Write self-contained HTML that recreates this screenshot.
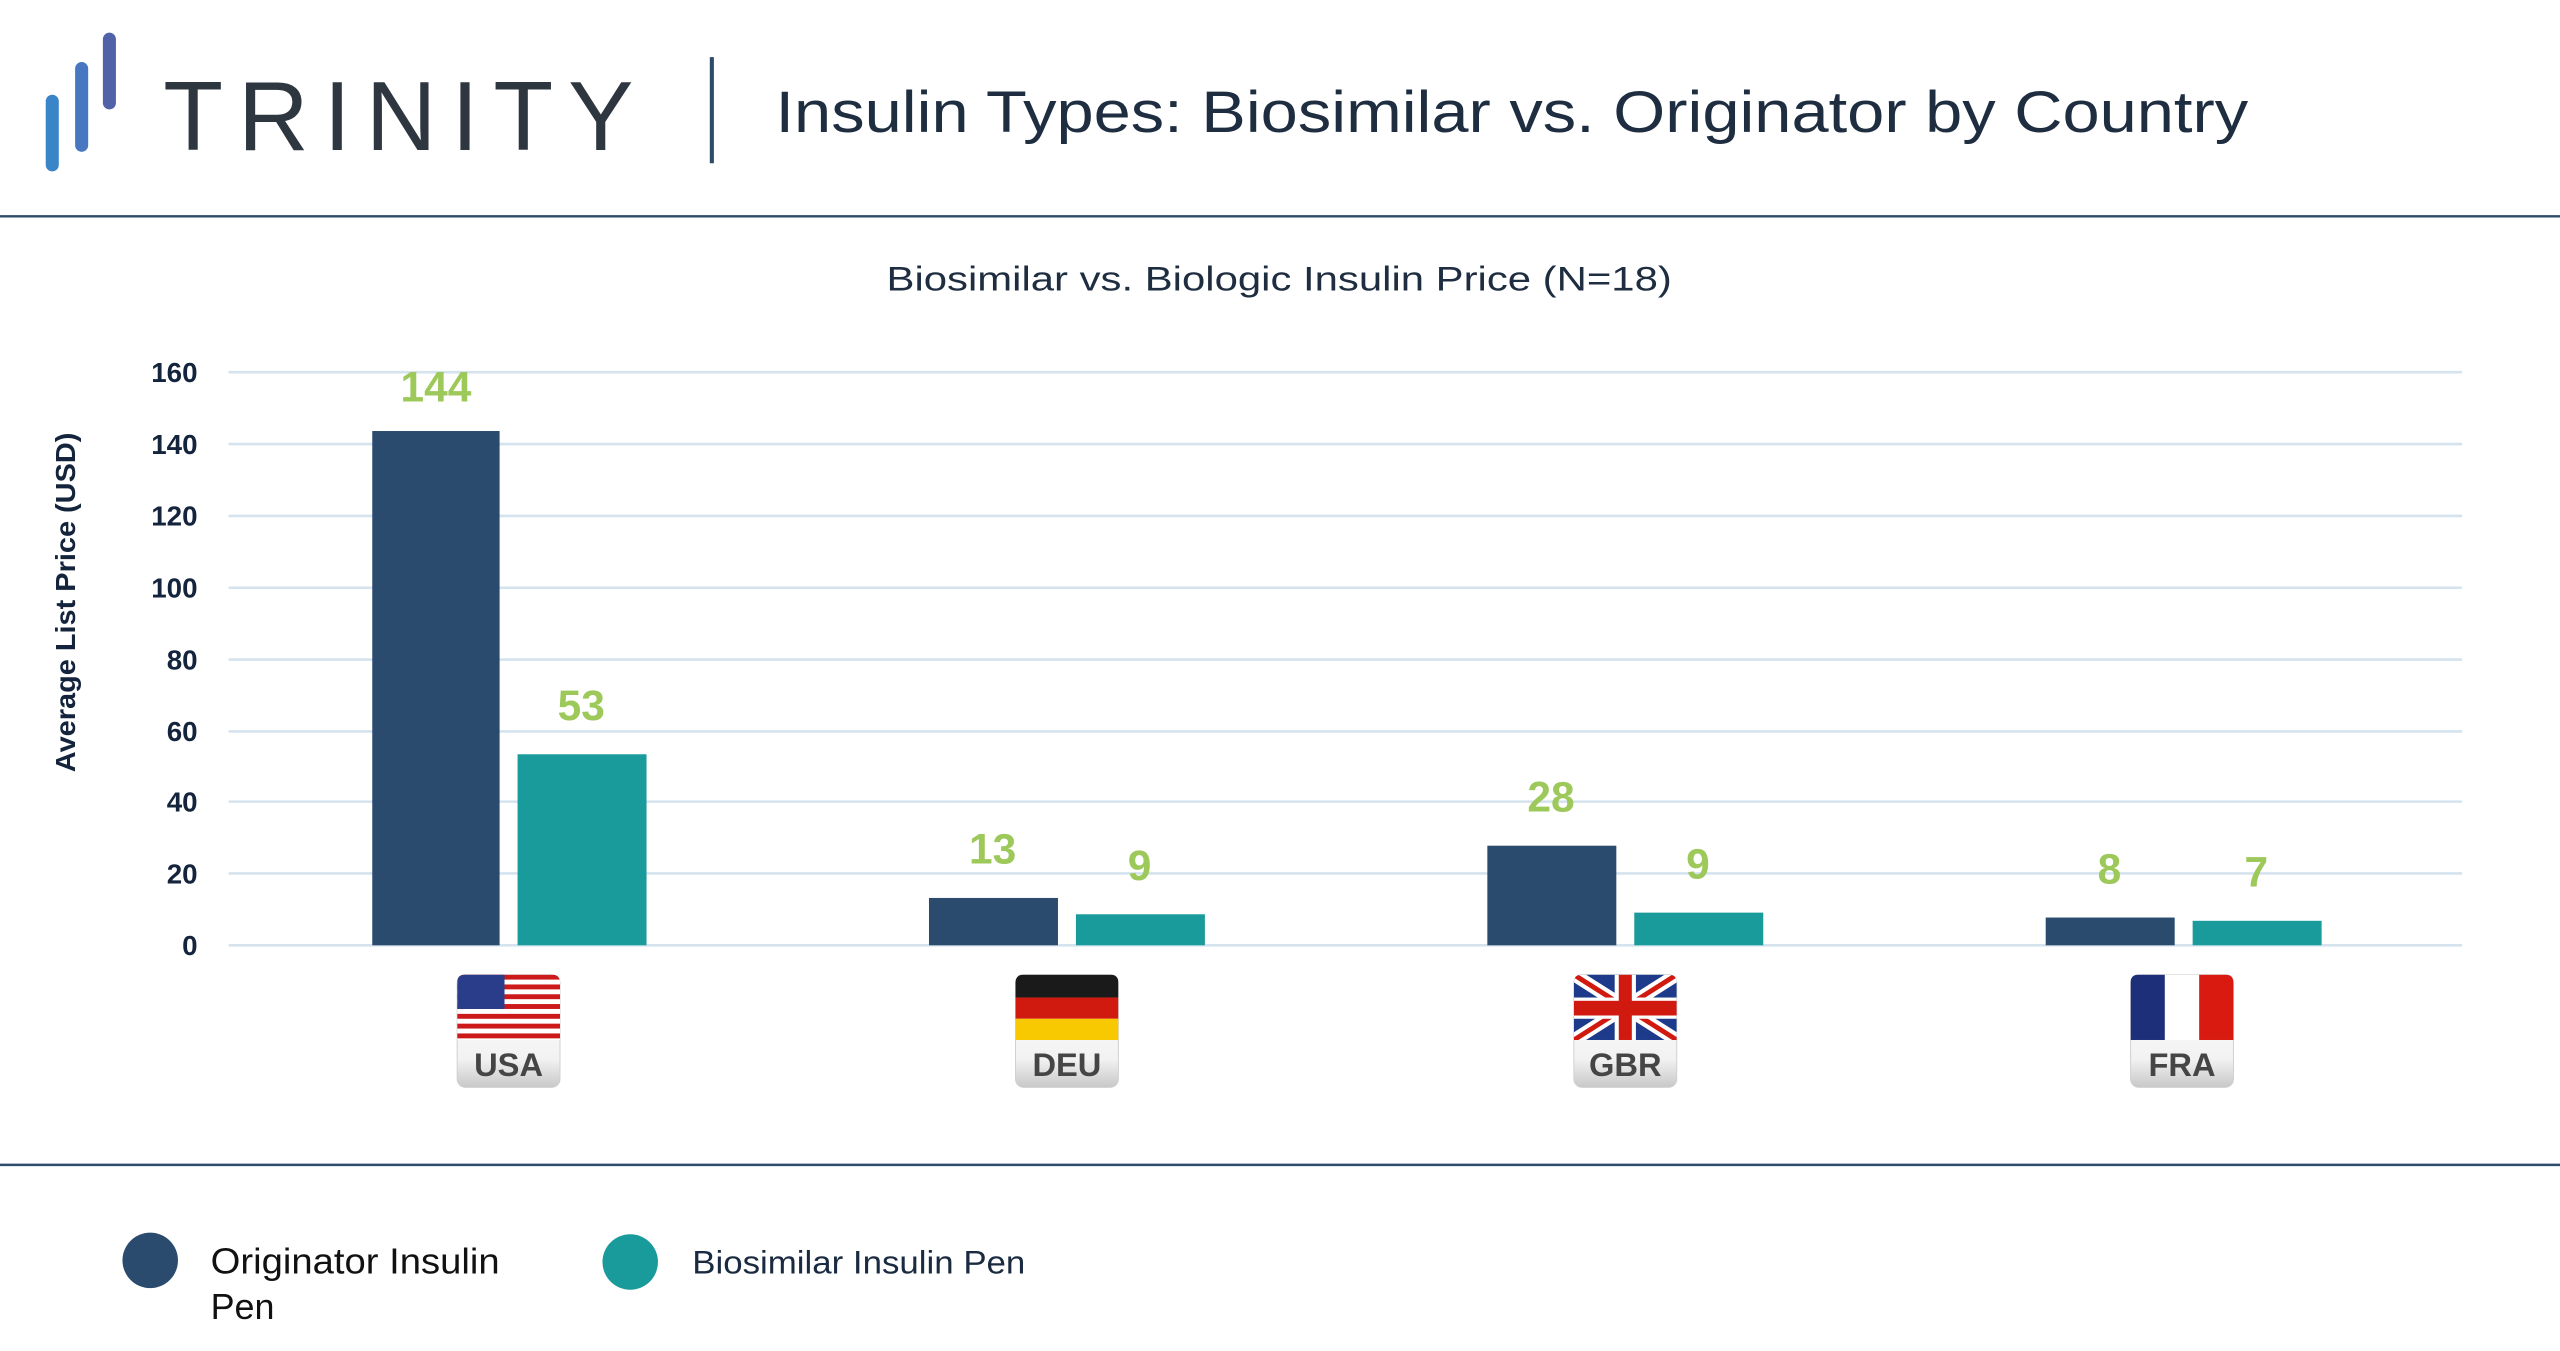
<!DOCTYPE html>
<html><head><meta charset="utf-8"><style>
html,body{margin:0;padding:0;background:#fff;}
svg{display:block;}
text{font-family:"Liberation Sans",sans-serif;}
</style></head><body>
<svg width="2560" height="1351" viewBox="0 0 1568 827.5" xmlns="http://www.w3.org/2000/svg">
<defs>
<clipPath id="top"><path d="M0,5 Q0,0 5,0 L58,0 Q63,0 63,5 L63,40 L0,40 Z"/></clipPath>
<linearGradient id="lab" x1="0" y1="0" x2="0" y2="1"><stop offset="0" stop-color="#fff"/><stop offset="0.75" stop-color="#f2f2f2"/><stop offset="1" stop-color="#c8c8c8"/></linearGradient>
<g id="badge">
<rect x="0" y="0" width="63" height="69" rx="5" fill="url(#lab)" stroke="#d0d0d0" stroke-width="0.6"/>
</g>
</defs>
<rect width="1568" height="827.5" fill="#fff"/>
<!-- logo -->
<line x1="32" y1="62" x2="32" y2="101" stroke="#3a84c8" stroke-width="8" stroke-linecap="round"/>
<line x1="50" y1="42" x2="50" y2="89" stroke="#4677c0" stroke-width="8" stroke-linecap="round"/>
<line x1="67" y1="24" x2="67" y2="63" stroke="#5262a8" stroke-width="8" stroke-linecap="round"/>
<text x="100" y="92" font-size="60" fill="#2e3640" textLength="288" lengthAdjust="spacing">TRINITY</text>
<line x1="436" y1="35" x2="436" y2="100" stroke="#2c4a6a" stroke-width="2.5"/>
<text x="475" y="81" font-size="36" fill="#1e2d40" textLength="902" lengthAdjust="spacingAndGlyphs">Insulin Types: Biosimilar vs. Originator by Country</text>
<line x1="0" y1="132.5" x2="1568" y2="132.5" stroke="#2c4a6a" stroke-width="1.5"/>
<text x="543" y="178" font-size="21" fill="#1e2d40" textLength="481" lengthAdjust="spacingAndGlyphs">Biosimilar vs. Biologic Insulin Price (N=18)</text>
<!-- grid -->
<g stroke="#d5e3ee" stroke-width="1.6">
<line x1="140" y1="228" x2="1508" y2="228"/><line x1="140" y1="272" x2="1508" y2="272"/>
<line x1="140" y1="316" x2="1508" y2="316"/><line x1="140" y1="360" x2="1508" y2="360"/>
<line x1="140" y1="404" x2="1508" y2="404"/><line x1="140" y1="448" x2="1508" y2="448"/>
<line x1="140" y1="491" x2="1508" y2="491"/><line x1="140" y1="535" x2="1508" y2="535"/>
<line x1="140" y1="579" x2="1508" y2="579"/>
</g>
<g font-size="17" font-weight="bold" fill="#14243c" text-anchor="end">
<text x="121" y="234">160</text><text x="121" y="278">140</text><text x="121" y="322">120</text>
<text x="121" y="366">100</text><text x="121" y="410">80</text><text x="121" y="454">60</text>
<text x="121" y="497">40</text><text x="121" y="541">20</text><text x="121" y="585">0</text>
</g>
<text transform="translate(46,369) rotate(-90)" text-anchor="middle" font-size="17" font-weight="bold" fill="#14243c" textLength="208" lengthAdjust="spacingAndGlyphs">Average List Price (USD)</text>
<!-- bars -->
<g fill="#2a4a6e">
<rect x="228" y="264" width="78" height="315"/>
<rect x="569" y="550" width="79" height="29"/>
<rect x="911" y="518" width="79" height="61"/>
<rect x="1253" y="562" width="79" height="17"/>
</g>
<g fill="#1a9b9b">
<rect x="317" y="462" width="79" height="117"/>
<rect x="659" y="560" width="79" height="19"/>
<rect x="1001" y="559" width="79" height="20"/>
<rect x="1343" y="564" width="79" height="15"/>
</g>
<g font-size="26" font-weight="bold" fill="#9dc85a" text-anchor="middle">
<text x="267" y="246">144</text><text x="356" y="441">53</text>
<text x="608" y="529">13</text><text x="698" y="539">9</text>
<text x="950" y="497">28</text><text x="1040" y="538">9</text>
<text x="1292" y="541">8</text><text x="1382" y="543">7</text>
</g>
<!-- badges -->
<g transform="translate(280,597)">
<use href="#badge"/>
<g clip-path="url(#top)">
<rect width="63" height="40" fill="#fff"/>
<g fill="#cc1a1a"><rect y="0" width="63" height="3"/><rect y="6" width="63" height="3"/><rect y="12" width="63" height="3"/><rect y="18" width="63" height="3"/><rect y="24" width="63" height="3"/><rect y="30" width="63" height="3"/><rect y="36" width="63" height="3"/></g>
<rect width="29" height="21" fill="#2a3d8a"/>
</g>
<text x="31.5" y="62" text-anchor="middle" font-size="20" font-weight="bold" fill="#454545">USA</text>
</g>
<g transform="translate(622,597)">
<use href="#badge"/>
<g clip-path="url(#top)">
<rect width="63" height="14" fill="#1a1a1a"/><rect y="14" width="63" height="13" fill="#d01a10"/><rect y="27" width="63" height="13" fill="#f8c800"/>
</g>
<text x="31.5" y="62" text-anchor="middle" font-size="20" font-weight="bold" fill="#454545">DEU</text>
</g>
<g transform="translate(964,597)">
<use href="#badge"/>
<g clip-path="url(#top)">
<rect width="63" height="40" fill="#1e3a8a"/>
<path d="M0,0 L63,40 M63,0 L0,40" stroke="#fff" stroke-width="8"/>
<path d="M0,0 L63,40 M63,0 L0,40" stroke="#d01a10" stroke-width="3"/>
<rect x="25" width="13" height="40" fill="#fff"/><rect y="14" width="63" height="13" fill="#fff"/>
<rect x="27.5" width="8" height="40" fill="#d01a10"/><rect y="16" width="63" height="9" fill="#d01a10"/>
</g>
<text x="31.5" y="62" text-anchor="middle" font-size="20" font-weight="bold" fill="#454545">GBR</text>
</g>
<g transform="translate(1305,597)">
<use href="#badge"/>
<g clip-path="url(#top)">
<rect width="21" height="40" fill="#1e2f7a"/><rect x="21" width="21" height="40" fill="#fff"/><rect x="42" width="21" height="40" fill="#d81a10"/>
</g>
<text x="31.5" y="62" text-anchor="middle" font-size="20" font-weight="bold" fill="#454545">FRA</text>
</g>
<line x1="0" y1="713.5" x2="1568" y2="713.5" stroke="#2c4a6a" stroke-width="1.5"/>
<!-- legend -->
<ellipse cx="92" cy="772" rx="17" ry="17" fill="#2a4a6e"/>
<text x="129" y="780" font-size="22" fill="#111" textLength="177" lengthAdjust="spacingAndGlyphs">Originator Insulin</text>
<text x="129" y="808" font-size="22" fill="#111">Pen</text>
<ellipse cx="386" cy="773" rx="17" ry="17" fill="#1a9b9b"/>
<text x="424" y="780" font-size="20" fill="#1a2a40" textLength="204" lengthAdjust="spacingAndGlyphs">Biosimilar Insulin Pen</text>
</svg>
</body></html>
